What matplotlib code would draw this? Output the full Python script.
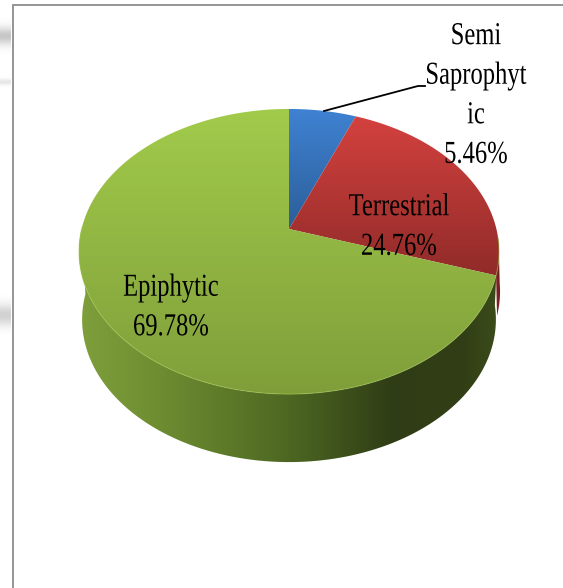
import numpy as np
import matplotlib
matplotlib.use("Agg")
import matplotlib.pyplot as plt
import matplotlib.patheffects as pe
from matplotlib.colors import LinearSegmentedColormap as LSC
from matplotlib.patches import Polygon
from matplotlib.transforms import Affine2D

categories = ["Semi\nSaprophyt\nic", "Terrestrial", "Epiphytic"]
values = [5.46, 24.76, 69.78]

W, H = 563, 588
CX, CY, A, B, K, DEPTH = 289, 229, 139, 207.4, 0.158, 68

plt.rcParams["font.family"] = ["Liberation Serif", "DejaVu Serif"]
fig = plt.figure(figsize=(W / 100, H / 100), dpi=100)
ax = fig.add_axes([0, 0, 1, 1])
ax.set_xlim(0, W)
ax.set_ylim(H, 0)
ax.axis("off")


class Condense(pe.AbstractPathEffect):
    """Narrow the glyphs horizontally about a fixed x, as in the stretched original."""

    def __init__(self, xc, sx):
        super().__init__()
        self.xc, self.sx = xc, sx

    def draw_path(self, renderer, gc, tpath, affine, rgbFace=None):
        squeeze = Affine2D().translate(-self.xc, 0).scale(self.sx, 1).translate(self.xc, 0)
        renderer.draw_path(gc, tpath, affine + squeeze, rgbFace)


def rim(theta):
    u, v = np.sin(theta), np.cos(theta)
    w = 1 + K * v
    return CX + B * u / w, CY - A * v / w


def gradient(clip, extent, stops, vertical=True, z=1):
    t = np.linspace(0, 1, 256)
    arr = t[:, None] if vertical else t[None, :]
    cmap = LSC.from_list("g", stops)
    im = ax.imshow(arr, cmap=cmap, extent=extent, aspect="auto", zorder=z,
                   interpolation="bilinear", vmin=0, vmax=1)
    p = Polygon(clip, closed=True, transform=ax.transData, fc="none", ec="none")
    ax.add_patch(p)
    im.set_clip_path(p)


# side wall
edges = np.radians(np.cumsum([0] + values) * 3.6)
edges = edges + np.array([0, 0.035, -0.005, 0])
th_side = np.linspace(np.pi / 2 + 0.06, 3 * np.pi / 2 + 0.02, 300)
x, y = rim(th_side)
xb = CX + (x - CX) * 0.985
side = np.r_[np.c_[x, y], np.c_[xb, y + DEPTH][::-1]]
gradient(side, (79, 499, 470, 230),
         [(0, "#7f9f3c"), (0.2, "#6d8c31"), (0.5, "#4d6722"),
          (0.75, "#2f3c15"), (0.92, "#323f16"), (1, "#3c4c1a")],
         vertical=False, z=1)

# red sliver on the right of the wall
th_red = np.linspace(edges[2] - 0.22, edges[2], 30)
xr, yr = rim(th_red)
ax.fill(np.r_[xr + 1.0, xr[::-1]], np.r_[yr + 40, yr[::-1]], color="#7a1f1f",
        zorder=1.5, lw=0)

# top faces
face_stops = [["#3f82d2", "#2b5d98"], ["#d5423f", "#8a2927"], ["#a2cb4b", "#7f9e3a"]]
extents = [(109, 232), (112, 290), (108, 396)]
for i in range(len(values)):
    t = np.linspace(edges[i], edges[i + 1], 300)
    xa, ya = rim(t)
    poly = np.r_[[[CX, CY]], np.c_[xa, ya]]
    y0, y1 = extents[i]
    gradient(poly, (70, 510, y1, y0), face_stops[i], z=2)

# rim highlight
xh, yh = rim(th_side)
ax.plot(xh, yh, color="#a3c94f", lw=0.8, alpha=0.5, zorder=2.5)

# leader line
ax.plot([324, 418, 425], [111, 86, 86], color="black", lw=1.3, zorder=3)

# labels
lab = dict(ha="center", va="center", fontsize=23, color="black", zorder=4, linespacing=1.48)
for name, val, xc, yc in zip(categories, values, [476, 399, 171], [96, 227.5, 308]):
    t = ax.text(xc, yc, f"{name}\n{val:.2f}%", **lab)
    t.set_path_effects([Condense(xc, 0.77)])

# frame
ax.plot([12.5, 12.5, W], [H, 4.5, 4.5], color="#8c8c8c", lw=1.3, zorder=5,
        solid_joinstyle="miter")

# smudges of the page behind
for yc, s, g in [(36, 9, 0.78), (82, 3, 0.90), (315, 11, 0.82)]:
    yy = np.linspace(yc - 3 * s, yc + 3 * s, 60)
    prof = 1 - (1 - g) * np.exp(-((yy - yc) / s) ** 2)
    ax.imshow(prof[:, None], cmap="gray", vmin=0, vmax=1,
              extent=(0, 11, yy[-1], yy[0]), aspect="auto", zorder=0.5)
ax.set_xlim(0, W)
ax.set_ylim(H, 0)

fig.savefig("out.png", dpi=100, facecolor="white")
